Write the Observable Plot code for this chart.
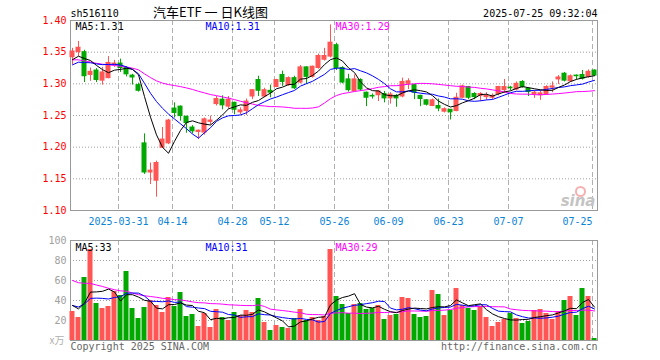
<!DOCTYPE html>
<html><head><meta charset="utf-8">
<script src="https://cdn.jsdelivr.net/npm/d3@7"></script>
<script src="https://cdn.jsdelivr.net/npm/@observablehq/plot@0.6"></script>
<style>
body{margin:0;background:#fff;}
#wrap{position:relative;width:660px;height:360px;overflow:hidden;background:#fff;}
#wrap svg{position:absolute;left:0;}
</style></head><body><div id="wrap"></div>
<script>
// ---- data (daily K, 2025-03-19 .. 2025-07-25) ----
const opens = [1.342,1.350,1.350,1.314,1.321,1.305,1.309,1.330,1.332,1.325,1.313,1.298,1.206,1.160,1.147,1.199,1.206,1.261,1.264,1.248,1.231,1.224,1.223,1.240,1.268,1.275,1.264,1.270,1.255,1.257,1.280,1.306,1.280,1.289,1.295,1.314,1.298,1.309,1.302,1.326,1.311,1.325,1.338,1.343,1.361,1.325,1.307,1.288,1.306,1.286,1.281,1.282,1.284,1.277,1.281,1.280,1.300,1.298,1.281,1.274,1.265,1.265,1.256,1.259,1.257,1.278,1.295,1.284,1.281,1.279,1.278,1.284,1.290,1.294,1.291,1.303,1.292,1.284,1.282,1.283,1.294,1.307,1.316,1.304,1.313,1.314,1.311,1.321];
const highs = [1.356,1.367,1.353,1.325,1.324,1.326,1.343,1.337,1.339,1.327,1.315,1.301,1.221,1.175,1.178,1.231,1.244,1.270,1.265,1.249,1.234,1.227,1.246,1.249,1.280,1.281,1.280,1.271,1.262,1.276,1.291,1.312,1.293,1.298,1.307,1.320,1.311,1.312,1.329,1.327,1.328,1.347,1.356,1.393,1.364,1.327,1.315,1.314,1.308,1.287,1.284,1.289,1.288,1.286,1.283,1.309,1.308,1.299,1.282,1.275,1.276,1.276,1.262,1.259,1.285,1.298,1.296,1.286,1.286,1.286,1.284,1.296,1.307,1.296,1.303,1.305,1.294,1.289,1.290,1.297,1.303,1.313,1.318,1.314,1.314,1.321,1.322,1.322];
const lows = [1.330,1.343,1.302,1.304,1.302,1.298,1.308,1.326,1.318,1.311,1.298,1.287,1.157,1.141,1.121,1.198,1.204,1.246,1.241,1.222,1.221,1.212,1.219,1.235,1.265,1.259,1.260,1.251,1.251,1.250,1.275,1.280,1.278,1.278,1.294,1.296,1.296,1.291,1.300,1.299,1.309,1.323,1.336,1.341,1.321,1.300,1.287,1.288,1.288,1.264,1.276,1.272,1.270,1.268,1.263,1.278,1.291,1.275,1.264,1.265,1.264,1.256,1.254,1.243,1.256,1.277,1.275,1.275,1.272,1.274,1.275,1.281,1.285,1.289,1.289,1.293,1.280,1.277,1.274,1.282,1.286,1.299,1.303,1.302,1.306,1.306,1.309,1.312];
const closes = [1.351,1.357,1.312,1.319,1.306,1.318,1.333,1.332,1.325,1.315,1.310,1.289,1.160,1.163,1.175,1.212,1.242,1.254,1.249,1.238,1.225,1.226,1.244,1.242,1.276,1.266,1.275,1.259,1.258,1.272,1.290,1.289,1.290,1.286,1.306,1.303,1.309,1.293,1.326,1.311,1.327,1.344,1.344,1.365,1.325,1.302,1.290,1.307,1.291,1.278,1.280,1.288,1.277,1.283,1.277,1.303,1.304,1.286,1.276,1.267,1.274,1.261,1.260,1.255,1.278,1.296,1.278,1.279,1.284,1.281,1.281,1.295,1.295,1.293,1.300,1.295,1.287,1.286,1.285,1.295,1.296,1.310,1.305,1.312,1.312,1.308,1.319,1.313];
const volumes = [29,23,63,91,37,32,34,49,45,69,32,22,33,40,35,28,43,34,48,24,26,14,27,13,31,23,20,28,25,30,28,42,18,10,15,13,12,22,31,20,23,20,24,91,44,36,27,36,37,31,32,35,21,25,26,43,42,26,23,24,50,46,25,30,52,35,32,30,34,23,14,18,21,27,22,17,19,30,31,27,21,29,40,44,25,52,44,2];
// earlier sessions (off-chart), estimated from where the MA lines start
const priorCloses = [1.360,1.365,1.370,1.368,1.362,1.358,1.365,1.360,1.355,1.362,1.368,1.350,1.340,1.330,1.320,1.310,1.300,1.300,1.300,1.297,1.315,1.318,1.322,1.325,1.329,1.330,1.330,1.335,1.345];
const priorVolumes = [90,80,95,85,75,88,92,80,78,90,70,65,62,58,60,55,62,55,52,58,38,32,36,34,35,40,34,36,36];
// axis ticks and labels
const dateTickIndex = [8,17,27,34,44,53,63,73,87];
const dateTickLabels = ["2025-03-31","04-14","04-28","05-12","05-26","06-09","06-23","07-07","07-25"];
const priceTicks = [1.10,1.15,1.20,1.25,1.30,1.35,1.40];
const priceGrid = [1.15,1.20,1.25,1.30,1.35];
const volTicks = [20,40,60,80,100];
const volGrid = [20,40,60,80];
const priceMaLabels = ["MA5:1.31","MA10:1.31","MA30:1.29"];
const volMaLabels = ["MA5:33","MA10:31","MA30:29"];
const symbol = "sh516110";
const title = "汽车ETF 一 日K线图";
const stamp = "2025-07-25 09:32:04";

// ---- build ----
const RED = "#ff5555", GREEN = "#00a800";
const MONO = "DejaVu Sans Mono, monospace";
function movingAvg(prior, vals, k) {
  const all = prior.concat(vals), off = prior.length;
  return vals.map((_, i) => d3.mean(all.slice(off + i - k + 1, off + i + 1)));
}
const candles = opens.map((o, i) => ({i, o, h: highs[i], l: lows[i], c: closes[i], v: volumes[i], col: closes[i] >= o ? RED : GREEN}));
const p5 = movingAvg(priorCloses, closes, 5), p10 = movingAvg(priorCloses, closes, 10), p30 = movingAvg(priorCloses, closes, 30);
const v5 = movingAvg(priorVolumes, volumes, 5), v10 = movingAvg(priorVolumes, volumes, 10), v30 = movingAvg(priorVolumes, volumes, 30);
const rows = candles.map((d, i) => ({i, p5: p5[i], p10: p10[i], p30: p30[i], v5: v5[i], v10: v10[i], v30: v30[i]}));
const half = 2.5 / 6;
const N = closes.length - 1;
const xScale = {domain: [0, N], range: [72, 72 + 6 * N], axis: null};
const txt = (s, o) => Plot.text([s], {text: d => d, fontFamily: MONO, fontSize: 10, lineAnchor: "bottom", ...o});
const maColors = ["#000000", "#0000ff", "#ff00ff"];
const maDx = [5, 135, 265];

const price = Plot.plot({
  width: 660, height: 232, marginTop: 20, marginBottom: 22, marginLeft: 70, marginRight: 63,
  x: xScale,
  y: {domain: [1.10, 1.40], axis: null},
  color: {type: "identity"},
  style: {fontFamily: MONO, fontSize: "10px", background: "transparent", overflow: "visible"},
  marks: [
    Plot.ruleY(priceGrid, {stroke: "#a0a0a0", strokeDasharray: "1,2"}),
    Plot.ruleX(dateTickIndex, {x: d => d, dx: -2, stroke: "#b0b0b0", strokeDasharray: "5,3"}),
    Plot.text(["sina"], {text: d => d, frameAnchor: "bottom-right", dx: -2, dy: -5, textAnchor: "end", lineAnchor: "bottom", fill: "#c4c4c4", fontSize: 15, fontStyle: "italic", fontWeight: "bold", fontFamily: "DejaVu Sans"}),
    Plot.dot([0], {frameAnchor: "bottom-right", dx: -17, dy: -19, r: 4.5, stroke: "#f7b0b0", strokeWidth: 2, fill: "none"}),
    Plot.frame({stroke: "#999"}),
    Plot.axisY(priceTicks, {tickSize: 0, tickPadding: 4, tickFormat: d3.format(".2f"), fill: "#ff0000", fontSize: 10}),
    Plot.ruleX(candles, {x: "i", y1: "l", y2: "h", stroke: "col"}),
    Plot.rect(candles, {x1: d => d.i - half, x2: d => d.i + half, y1: "o", y2: "c", fill: "col", insetTop: -0.5, insetBottom: -0.5}),
    Plot.line(rows, {x: "i", y: "p30", stroke: "#ff00ff", strokeWidth: 1}),
    Plot.line(rows, {x: "i", y: "p10", stroke: "#0000ff", strokeWidth: 1}),
    Plot.line(rows, {x: "i", y: "p5", stroke: "#000000", strokeWidth: 1}),
    Plot.text(dateTickIndex.slice(0, -1), {x: d => d, text: (d, k) => dateTickLabels[k], dx: -2, frameAnchor: "bottom", dy: 14, lineAnchor: "bottom", textAnchor: "middle", fill: "#0b84d8", fontSize: 10}),
    Plot.text(dateTickIndex.slice(-1), {x: d => d, text: () => dateTickLabels[dateTickLabels.length - 1], dx: -2, frameAnchor: "bottom", dy: 14, lineAnchor: "bottom", textAnchor: "end", fill: "#0b84d8", fontSize: 10}),
    txt(symbol, {frameAnchor: "top-left", dy: -4, textAnchor: "start", fill: "#000"}),
    Plot.text([title], {text: d => d, frameAnchor: "top-left", dx: 140, dy: -4, textAnchor: "middle", lineAnchor: "bottom", fontSize: 13, fontFamily: "Noto Sans CJK SC", fill: "#000"}),
    txt(stamp, {frameAnchor: "top-right", dy: -4, textAnchor: "end", fill: "#000"}),
    ...priceMaLabels.map((s, k) => txt(s, {frameAnchor: "top-left", dx: maDx[k], dy: 9.5, textAnchor: "start", fill: maColors[k]}))
  ]
});

const vol = Plot.plot({
  width: 660, height: 128, marginTop: 8, marginBottom: 20, marginLeft: 70, marginRight: 63,
  x: xScale,
  y: {domain: [0, 100], axis: null},
  color: {type: "identity"},
  style: {fontFamily: MONO, fontSize: "10px", background: "transparent", overflow: "visible"},
  marks: [
    Plot.ruleY(volGrid, {stroke: "#a0a0a0", strokeDasharray: "1,2"}),
    Plot.ruleX(dateTickIndex, {x: d => d, dx: -2, stroke: "#b0b0b0", strokeDasharray: "5,3"}),
    Plot.frame({stroke: "#999"}),
    Plot.axisY(volTicks, {tickSize: 0, tickPadding: 4, tickFormat: d => String(d), fill: "#a0a0a0", fontSize: 10}),
    Plot.rect(candles, {x1: d => d.i - half, x2: d => d.i + half, y1: 0, y2: "v", fill: "col"}),
    Plot.line(rows, {x: "i", y: "v30", stroke: "#ff00ff", strokeWidth: 1}),
    Plot.line(rows, {x: "i", y: "v10", stroke: "#0000ff", strokeWidth: 1}),
    Plot.line(rows, {x: "i", y: "v5", stroke: "#000000", strokeWidth: 1}),
    ...volMaLabels.map((s, k) => txt(s, {frameAnchor: "top-left", dx: maDx[k], dy: 10, textAnchor: "start", fill: maColors[k]})),
    Plot.text(["x万"], {text: d => d, frameAnchor: "bottom-left", dx: -6, dy: 3, textAnchor: "end", lineAnchor: "bottom", fill: "#b0b0b0", fontSize: 10, fontFamily: "Noto Sans CJK SC"}),
    txt("Copyright 2025 SINA.COM", {frameAnchor: "bottom-left", dy: 9.5, textAnchor: "start", fill: "#666"}),
    txt("http://finance.sina.com.cn", {frameAnchor: "bottom-right", dy: 9.5, textAnchor: "end", fill: "#666"})
  ]
});

const wrap = document.getElementById("wrap");
price.style.top = "0px";
vol.style.top = "232px";
wrap.append(price, vol);
</script></body></html>
